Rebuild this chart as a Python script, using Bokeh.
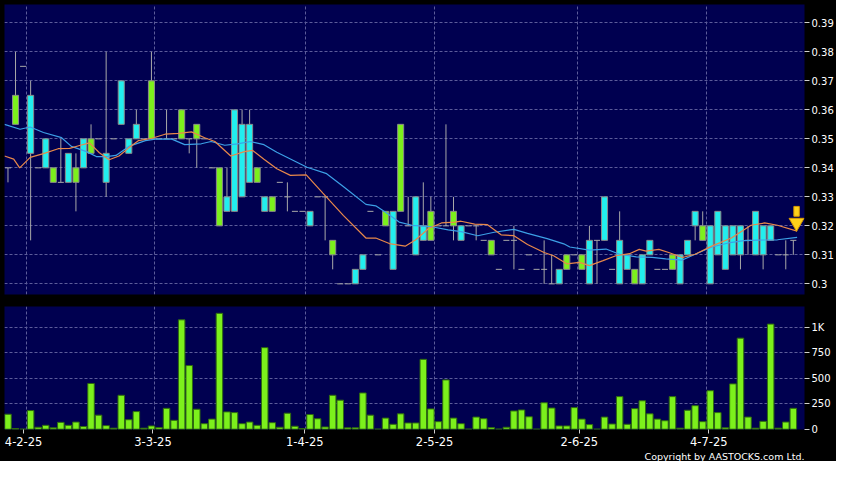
import numpy as np
from bokeh.plotting import figure
from bokeh.models import ColumnDataSource, FixedTicker, Range1d, CustomJSTickFormatter, Title
from bokeh.layouts import column
from bokeh.embed import file_html
from bokeh.resources import INLINE

# ---------------- data ----------------
opens = [0.34, 0.355, 0.375, 0.365, 0.34, 0.35, 0.335, 0.335, 0.345, 0.335,
         0.35, 0.345, 0.35, 0.345, 0.35, 0.37, 0.35, 0.355, 0.35, 0.35,
         0.35, 0.35, 0.35, 0.35, 0.35, 0.35, 0.35, 0.34, 0.32, 0.33,
         0.36, 0.355, 0.355, 0.335, 0.33, 0.325, 0.335, 0.33, 0.325, 0.325,
         0.325, 0.33, 0.33, 0.31, 0.30, 0.30, 0.305, 0.31, 0.325, 0.31,
         0.32, 0.325, 0.325, 0.32, 0.33, 0.32, 0.315, 0.32, 0.32, 0.32,
         0.32, 0.32, 0.32, 0.315, 0.31, 0.305, 0.315, 0.315, 0.305, 0.31,
         0.305, 0.305, 0.30, 0.305, 0.305, 0.31, 0.305, 0.315, 0.315, 0.33,
         0.305, 0.315, 0.31, 0.30, 0.31, 0.315, 0.305, 0.305, 0.305, 0.31,
         0.315, 0.325, 0.315, 0.32, 0.325, 0.32, 0.32, 0.32, 0.315, 0.325,
         0.32, 0.32, 0.31, 0.31, 0.315]
highs = [0.34, 0.38, 0.375, 0.37, 0.34, 0.35, 0.34, 0.35, 0.345, 0.345,
         0.35, 0.355, 0.35, 0.38, 0.35, 0.37, 0.35, 0.36, 0.35, 0.38,
         0.35, 0.36, 0.35, 0.36, 0.35, 0.355, 0.35, 0.34, 0.34, 0.34,
         0.36, 0.36, 0.36, 0.34, 0.33, 0.33, 0.335, 0.335, 0.325, 0.325,
         0.325, 0.33, 0.33, 0.315, 0.30, 0.30, 0.305, 0.31, 0.325, 0.31,
         0.325, 0.325, 0.355, 0.33, 0.33, 0.335, 0.33, 0.32, 0.355, 0.33,
         0.32, 0.32, 0.32, 0.315, 0.315, 0.305, 0.315, 0.32, 0.305, 0.31,
         0.305, 0.315, 0.31, 0.305, 0.31, 0.31, 0.31, 0.32, 0.315, 0.33,
         0.305, 0.325, 0.31, 0.305, 0.31, 0.315, 0.305, 0.305, 0.31, 0.31,
         0.315, 0.325, 0.325, 0.32, 0.325, 0.32, 0.32, 0.32, 0.32, 0.325,
         0.32, 0.32, 0.31, 0.315, 0.315]
lows = [0.335, 0.355, 0.375, 0.315, 0.34, 0.34, 0.335, 0.335, 0.335, 0.325,
        0.34, 0.345, 0.35, 0.33, 0.35, 0.355, 0.345, 0.35, 0.35, 0.35,
        0.35, 0.35, 0.35, 0.35, 0.345, 0.34, 0.35, 0.34, 0.32, 0.325,
        0.325, 0.33, 0.335, 0.335, 0.325, 0.325, 0.335, 0.325, 0.325, 0.325,
        0.32, 0.33, 0.315, 0.305, 0.30, 0.30, 0.30, 0.305, 0.325, 0.31,
        0.32, 0.305, 0.325, 0.32, 0.31, 0.315, 0.315, 0.32, 0.32, 0.315,
        0.315, 0.32, 0.315, 0.315, 0.31, 0.305, 0.315, 0.305, 0.305, 0.31,
        0.305, 0.30, 0.30, 0.30, 0.305, 0.31, 0.305, 0.30, 0.30, 0.315,
        0.305, 0.30, 0.305, 0.30, 0.30, 0.31, 0.305, 0.305, 0.305, 0.30,
        0.31, 0.315, 0.315, 0.30, 0.31, 0.305, 0.31, 0.305, 0.31, 0.31,
        0.305, 0.315, 0.31, 0.305, 0.31]
closes = [0.34, 0.365, 0.375, 0.345, 0.34, 0.34, 0.34, 0.335, 0.335, 0.34,
          0.34, 0.35, 0.35, 0.335, 0.35, 0.355, 0.345, 0.35, 0.35, 0.37,
          0.35, 0.35, 0.35, 0.36, 0.35, 0.355, 0.35, 0.34, 0.34, 0.325,
          0.325, 0.33, 0.335, 0.34, 0.325, 0.33, 0.335, 0.33, 0.325, 0.325,
          0.32, 0.33, 0.33, 0.315, 0.30, 0.30, 0.30, 0.305, 0.325, 0.31,
          0.325, 0.305, 0.355, 0.32, 0.31, 0.315, 0.325, 0.32, 0.32, 0.325,
          0.315, 0.32, 0.32, 0.315, 0.315, 0.305, 0.315, 0.315, 0.305, 0.31,
          0.305, 0.305, 0.30, 0.30, 0.31, 0.31, 0.31, 0.30, 0.315, 0.315,
          0.305, 0.30, 0.305, 0.305, 0.30, 0.31, 0.305, 0.305, 0.31, 0.30,
          0.31, 0.32, 0.32, 0.30, 0.31, 0.305, 0.31, 0.31, 0.315, 0.31,
          0.31, 0.315, 0.31, 0.31, 0.315]
volumes = [147, 6, 0, 183, 19, 38, 13, 67, 38, 70,
           26, 449, 138, 35, 10, 333, 93, 173, 10, 32,
           16, 205, 87, 1074, 625, 196, 54, 99, 1138, 170,
           163, 54, 70, 38, 801, 64, 19, 157, 29, 6,
           144, 103, 22, 333, 285, 13, 13, 356, 138, 0,
           109, 48, 151, 61, 61, 686, 199, 74, 484, 109,
           54, 0, 119, 103, 16, 0, 19, 179, 189, 122,
           0, 260, 208, 32, 32, 212, 99, 45, 0, 119,
           51, 320, 48, 202, 279, 151, 99, 83, 320, 10,
           186, 231, 74, 378, 163, 13, 445, 894, 119, 10,
           77, 1032, 10, 70, 205]

# moving averages, read at sample points (bar index, price)
ma_blue_x = [-0.46, 1.6, 2.94, 4.7, 7.1, 8.4, 10.4, 11.7, 13.0, 14.3, 16.0, 18.2,
             19.5, 21.7, 23.4, 25.6, 26.9, 28.7, 30.4, 32.1, 33.9, 35.6,
             37.0, 39.6, 42.2, 44.4, 47.4, 48.7, 50.0, 51.8, 53.5, 56.1, 58.3,
             60.0, 62.2, 64.4, 67.0, 68.8, 71.4, 73.6,
             74.4, 77.0, 79.2, 81.0, 83.2, 85.3, 87.1, 89.3, 91.0, 93.2, 95.4,
             97.5, 99.3, 101.9, 104.5]
ma_blue_y = [0.3550, 0.3533, 0.3541, 0.3522, 0.3504, 0.3474, 0.3456, 0.3439, 0.3439,
             0.3443, 0.3474, 0.3494, 0.3499, 0.3499, 0.3480, 0.3483, 0.3491, 0.3478,
             0.3483, 0.3491, 0.3480, 0.3454,
             0.3436, 0.3402, 0.3380, 0.3336, 0.3274, 0.3269, 0.3247, 0.3213, 0.3202,
             0.3197, 0.3186, 0.3180, 0.3166, 0.3178, 0.3188, 0.3174, 0.3156, 0.3138,
             0.3127, 0.3116, 0.3120, 0.3102, 0.3093, 0.3091, 0.3086, 0.3082, 0.3102,
             0.3127, 0.3141, 0.3149, 0.3151, 0.3152, 0.3160]
ma_orange_x = [-0.46, 0.76, 1.55, 2.94, 4.7, 6.65, 8.17, 9.48, 10.8, 12.1, 13.4, 14.7,
               16.0, 17.3, 19.07, 20.8, 22.6, 24.3, 26.05, 27.4, 29.5, 31.3, 32.4,
               33.9, 35.6,
               37.4, 39.5, 41.7, 44.4, 47.4, 48.7, 50.5, 52.6, 54.0, 55.7, 57.4, 59.2,
               60.0, 61.8, 63.5, 65.3, 67.0, 68.8, 71.0,
               72.25, 74.0, 75.7, 77.0, 78.8, 80.5, 82.3, 83.6, 84.5, 86.2, 87.5,
               89.3, 91.0, 93.2, 95.8, 98.4, 100.2, 101.9, 104.5]
ma_orange_y = [0.3441, 0.3430, 0.3400, 0.3436, 0.3449, 0.3466, 0.3467, 0.3477, 0.3486,
               0.3452, 0.3428, 0.3441, 0.3469, 0.3494, 0.3502, 0.3516, 0.3519, 0.3524,
               0.3504, 0.3491, 0.3441, 0.3456, 0.3460, 0.3430, 0.3397,
               0.3374, 0.3376, 0.3313, 0.3236, 0.3158, 0.3158, 0.3139, 0.3130, 0.3152,
               0.3191, 0.3210, 0.3213, 0.3216, 0.3206, 0.3204, 0.3169, 0.3166, 0.3136,
               0.3108,
               0.3097, 0.3069, 0.3074, 0.3063, 0.3080, 0.3097, 0.3104, 0.3119, 0.3113,
               0.3119, 0.3108, 0.3091, 0.3102, 0.3130, 0.3158, 0.3202, 0.3210, 0.3202,
               0.3182]

date_ticks = [2.07, 19.2, 39.3, 56.5, 75.65, 92.8]
date_labels = ["4-2-25", "3-3-25", "1-4-25", "2-5-25", "2-6-25", "4-7-25"]
date_grid = [2.5, 19.45, 39.45, 56.45, 75.45, 92.45]
price_ticks = [0.30, 0.31, 0.32, 0.33, 0.34, 0.35, 0.36, 0.37, 0.38, 0.39]
volume_ticks = [0, 250, 500, 750, 1000]
volume_grid = [250, 500, 750, 1000]
arrow_x = [104.43]
arrow_y = [0.3215]

# ---------------- styling ----------------
FRAME_BG = "#000050"
GRID = "#5c5c9a"
UP = "#7cf01c"
DOWN = "#22eeee"
WICK = "#a8a8a8"
FONT = "DejaVu Sans"

n = len(closes)
idx = np.arange(n)
o = np.array(opens); c = np.array(closes); h = np.array(highs); l = np.array(lows)
up = c > o
dn = c < o
flat = c == o

X_RANGE = (-0.46, 105.48)
FRAME_W = 800
BORDER_L = 4
BORDER_R = 30

# ---------------- price panel ----------------
p = figure(frame_width=FRAME_W, frame_height=290,
           x_range=Range1d(*X_RANGE), y_range=Range1d(0.29633, 0.39633),
           x_axis_location=None, y_axis_location="right",
           output_backend="svg", toolbar_location=None,
           min_border_left=BORDER_L, min_border_top=4, min_border_bottom=6,
           min_border_right=BORDER_R,
           background_fill_color=FRAME_BG, border_fill_color="black",
           outline_line_color=None)

p.xgrid.ticker = FixedTicker(ticks=date_grid)
p.ygrid.ticker = FixedTicker(ticks=price_ticks)
for g in (p.xgrid, p.ygrid):
    g.grid_line_color = GRID
    g.grid_line_dash = "3 2"
    g.grid_line_width = 1

ax = p.yaxis[0]
ax.ticker = FixedTicker(ticks=price_ticks)
ax.formatter = CustomJSTickFormatter(code="return tick.toFixed(2).replace(/0$/, '');")
ax.axis_line_color = None
ax.major_tick_in = 0
ax.major_tick_out = 5
ax.major_tick_line_color = "#d0d0d0"
ax.minor_tick_line_color = None
ax.major_label_text_color = "white"
ax.major_label_text_font = FONT
ax.major_label_text_font_size = "10px"
ax.major_label_standoff = 2

wick_mask = h > l
ws = ColumnDataSource(dict(x=idx[wick_mask], lo=l[wick_mask], hi=h[wick_mask]))
p.segment(x0="x", y0="lo", x1="x", y1="hi", source=ws, line_color=WICK, line_width=1)

fs = ColumnDataSource(dict(x0=idx[flat] - 0.4, x1=idx[flat] + 0.4, y=c[flat]))
p.segment(x0="x0", y0="y", x1="x1", y1="y", source=fs, line_color=WICK, line_width=1)

us = ColumnDataSource(dict(x=idx[up], top=c[up], bottom=o[up]))
p.vbar(x="x", width=0.8, top="top", bottom="bottom", source=us,
       fill_color=UP, line_color="#8a8a8a", line_width=1)
ds = ColumnDataSource(dict(x=idx[dn], top=o[dn], bottom=c[dn]))
p.vbar(x="x", width=0.8, top="top", bottom="bottom", source=ds,
       fill_color=DOWN, line_color="#8a8a8a", line_width=1)

p.line(ma_blue_x, ma_blue_y, line_color="#3ca0e6", line_width=1.2)
p.line(ma_orange_x, ma_orange_y, line_color="#e8884a", line_width=1.2)

# yellow down arrow marking the latest bar
p.vbar(x=arrow_x, width=0.72, top=[y + 0.0052 for y in arrow_y],
       bottom=[y + 0.0018 for y in arrow_y], fill_color="#ffd21a", line_color="#d89a00")
p.scatter(x=arrow_x, y=[y - 0.0004 for y in arrow_y], marker="inverted_triangle",
          size=15, fill_color="#ffd21a", line_color="#d89a00")

# ---------------- volume panel ----------------
v = figure(frame_width=FRAME_W, frame_height=123,
           x_range=p.x_range, y_range=Range1d(-3, 1205),
           y_axis_location="right",
           output_backend="svg", toolbar_location=None,
           min_border_left=BORDER_L, min_border_top=6, min_border_bottom=0,
           min_border_right=BORDER_R,
           background_fill_color=FRAME_BG, border_fill_color="black",
           outline_line_color=None)

v.xgrid.ticker = FixedTicker(ticks=date_grid)
v.ygrid.ticker = FixedTicker(ticks=volume_grid)
for g in (v.xgrid, v.ygrid):
    g.grid_line_color = GRID
    g.grid_line_dash = "3 2"
    g.grid_line_width = 1

vy = v.yaxis[0]
vy.ticker = FixedTicker(ticks=volume_ticks)
vy.formatter = CustomJSTickFormatter(code="return tick >= 1000 ? (tick / 1000) + 'K' : tick.toString();")
vy.axis_line_color = None
vy.major_tick_in = 0
vy.major_tick_out = 5
vy.major_tick_line_color = "#d0d0d0"
vy.minor_tick_line_color = None
vy.major_label_text_color = "white"
vy.major_label_text_font = FONT
vy.major_label_text_font_size = "10px"
vy.major_label_standoff = 2

vx = v.xaxis[0]
vx.ticker = FixedTicker(ticks=date_ticks)
vx.formatter = CustomJSTickFormatter(args=dict(pos=date_ticks, names=date_labels), code="""
let best = 0;
for (let k = 0; k < pos.length; k++) {
  if (Math.abs(pos[k] - tick) < Math.abs(pos[best] - tick)) best = k;
}
return names[best];
""")
vx.axis_line_color = None
vx.major_tick_in = 0
vx.major_tick_out = 4
vx.major_tick_line_color = "#d0d0d0"
vx.minor_tick_line_color = None
vx.major_label_text_color = "white"
vx.major_label_text_font = FONT
vx.major_label_text_font_size = "11.5px"
vx.major_label_standoff = 3

vs = ColumnDataSource(dict(x=idx, top=np.array(volumes)))
v.vbar(x="x", width=0.86, top="top", bottom=0, source=vs,
       fill_color=UP, line_color="#2f6a10", line_width=1)

copyright = Title(text="Copyright by AASTOCKS.com Ltd.", align="right",
                  text_color="white", text_font=FONT, text_font_size="9.5px",
                  text_font_style="normal", standoff=0)
v.add_layout(copyright, "below")

layout = column(p, v, spacing=0, styles={"background-color": "black"})
open("out.html", "w").write(file_html(layout, INLINE))
